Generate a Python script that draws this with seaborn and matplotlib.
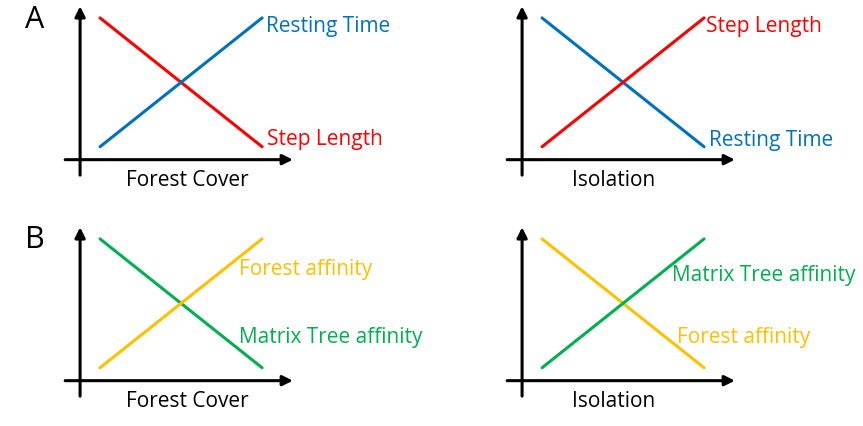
import numpy as np
import pandas as pd
import seaborn as sns
import matplotlib.pyplot as plt

sns.set_style("white")
plt.rcParams['font.family'] = ['Open Sans', 'DejaVu Sans']
plt.rcParams['text.color'] = 'black'

# conceptual trends: start and end of each line
x_vals = [0, 1]
rising = [0, 1]
falling = [1, 0]

RED = '#FF0000'
BLUE = '#0070C0'
GREEN = '#00B050'
YELLOW = '#FFC000'

panels = [
    # (left px, top px, xlabel, [(label, values, color, text x, text y)], xlabel x)
    (59.5, 5, 'Forest Cover',
     [('Step Length', falling, RED, 1.03, 0.055),
      ('Resting Time', rising, BLUE, 1.025, 0.93)], 0.537),
    (501.5, 5, 'Isolation',
     [('Resting Time', falling, BLUE, 1.03, 0.047),
      ('Step Length', rising, RED, 1.012, 0.93)], 0.44),
    (59.5, 226, 'Forest Cover',
     [('Matrix Tree affinity', falling, GREEN, 0.855, 0.233),
      ('Forest affinity', rising, YELLOW, 0.855, 0.76)], 0.537),
    (501.5, 226, 'Isolation',
     [('Forest affinity', falling, YELLOW, 0.83, 0.233),
      ('Matrix Tree affinity', rising, GREEN, 0.80, 0.713)], 0.44),
]

W, H = 863, 426
fig = plt.figure(figsize=(W / 100, H / 100), dpi=100)

for left, top, xlab, series, xl_pos in panels:
    aw, ah = 235, 174
    ax = fig.add_axes([left / W, 1 - (top + ah) / H, aw / W, ah / H])
    for name, vals, col, tx, ty in series:
        df = pd.DataFrame({'x': x_vals, 'y': vals})
        sns.lineplot(data=df, x='x', y='y', color=col, lw=2.2, ax=ax)
        ax.text(tx, ty, name, color=col, fontsize=15, ha='left', va='center',
                clip_on=False)
    ax.set_xlim(-0.25, 1.2)
    ax.set_ylim(-0.25, 1.1)
    ax.axis('off')
    # axes drawn as arrows
    ax.annotate('', xy=(1.19, -0.1), xytext=(-0.215, -0.1),
                arrowprops=dict(arrowstyle='-|>', color='black', lw=2.2,
                                mutation_scale=15, shrinkA=0, shrinkB=0))
    ax.annotate('', xy=(-0.123, 1.09), xytext=(-0.123, -0.22),
                arrowprops=dict(arrowstyle='-|>', color='black', lw=2.2,
                                mutation_scale=15, shrinkA=0, shrinkB=0))
    ax.text(xl_pos, -0.26, xlab, fontsize=15, ha='center', va='center',
            color='black', clip_on=False)

fig.text(35 / W, 1 - 20 / H, 'A', fontsize=22, ha='center', va='center')
fig.text(35 / W, 1 - 240 / H, 'B', fontsize=22, ha='center', va='center')

fig.savefig('out.png', dpi=100)
